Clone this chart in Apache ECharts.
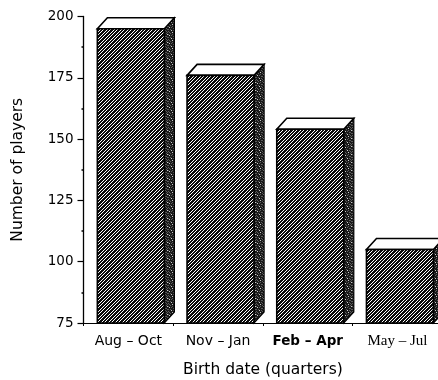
<!DOCTYPE html>
<html><head><meta charset="utf-8">
<script src="https://cdn.jsdelivr.net/npm/echarts@6/dist/echarts.min.js"></script>
<style>html,body{margin:0;padding:0;background:#fff}#c{width:438px;height:380px}</style>
</head><body><div id="c"></div>
<script>
// ---- data ----
const categories = ['Aug – Oct', 'Nov – Jan', 'Feb – Apr', 'May – Jul'];
const players = [195, 176, 154, 105];
const yMin = 75, yMax = 200, yStep = 25;
const xTitle = 'Birth date (quarters)';
const yTitle = 'Number of players';

// ---- patterns (styling only) ----
function makeHatch() {
  const s = 7, c = document.createElement('canvas');
  c.width = s; c.height = s;
  const ctx = c.getContext('2d');
  const img = ctx.createImageData(s, s);
  for (let y = 0; y < s; y++) for (let x = 0; x < s; x++) {
    const m = ((x + y) % 3.5 + 3.5) % 3.5;
    const v = m < 2.1 ? 10 : 255;
    const i = (y * s + x) * 4;
    img.data[i] = img.data[i+1] = img.data[i+2] = v; img.data[i+3] = 255;
  }
  ctx.putImageData(img, 0, 0);
  return c;
}
function makeStipple() {
  const grid = [
    [0,1,0,0,2,0,0,1],
    [0,0,1,0,0,0,1,0],
    [1,0,0,0,1,0,0,2],
    [0,2,0,1,0,0,0,0],
    [0,0,0,0,0,1,1,0],
    [1,0,1,0,0,0,0,1],
    [0,0,0,2,0,1,0,0],
    [1,0,0,0,0,0,1,0]
  ];
  const vals = [25, 90, 200];
  const s = 8, c = document.createElement('canvas');
  c.width = s; c.height = s;
  const ctx = c.getContext('2d');
  const img = ctx.createImageData(s, s);
  for (let y = 0; y < s; y++) for (let x = 0; x < s; x++) {
    const v = vals[grid[y][x]];
    const i = (y * s + x) * 4;
    img.data[i] = img.data[i+1] = img.data[i+2] = v; img.data[i+3] = 255;
  }
  ctx.putImageData(img, 0, 0);
  return c;
}
const hatch = { image: makeHatch(), repeat: 'repeat' };
const stipple = { image: makeStipple(), repeat: 'repeat' };

function renderItem(params, api) {
  const cat = api.value(0), val = api.value(1);
  const top = api.coord([cat, val]);
  const base = api.coord([cat, yMin]);
  const band = api.size([1, 0])[0];
  const L = top[0] - band * 0.3456, W = band * 0.747, R = L + W;
  const dx = band * 0.112, dy = band * 0.1226;
  const T = top[1], B = base[1];
  return {
    type: 'group',
    children: [
      { type: 'polygon', shape: { points: [[R, T], [R + dx, T - dy], [R + dx, B - dy], [R, B]] },
        style: { fill: stipple, stroke: '#000', lineWidth: 1.2 } },
      { type: 'polygon', shape: { points: [[L, T], [L + dx, T - dy], [R + dx, T - dy], [R, T]] },
        style: { fill: '#fff', stroke: '#000', lineWidth: 1.6 } },
      { type: 'rect', shape: { x: L, y: T, width: W, height: B - T },
        style: { fill: hatch, stroke: '#000', lineWidth: 1.6 } }
    ]
  };
}

const chart = echarts.init(document.getElementById('c'), null, { renderer: 'canvas' });
chart.setOption({
  animation: false,
  backgroundColor: '#fff',
  grid: { left: 83.5, right: -4.3, top: 16.5, bottom: 57, containLabel: false, outerBoundsMode: 'none' },
  xAxis: {
    type: 'category',
    data: categories,
    boundaryGap: true,
    name: xTitle,
    nameLocation: 'middle',
    nameGap: 39,
    nameTextStyle: { fontFamily: 'DejaVu Sans', fontSize: 15.5, color: '#000' },
    axisLine: { show: true, lineStyle: { color: '#000', width: 1.2 } },
    axisTick: { show: true, length: 3, lineStyle: { color: '#000' } },
    axisLabel: {
      margin: 11,
      interval: 0,
      formatter: function (v, i) {
        if (i === 2) return '{b|' + v + '}';
        if (i === 3) return '{s|' + v + '}';
        return '{n|' + v + '}';
      },
      rich: {
        n: { fontFamily: 'DejaVu Sans', fontSize: 14, color: '#000' },
        b: { fontFamily: 'DejaVu Sans', fontSize: 13.5, fontWeight: 'bold', color: '#000' },
        s: { fontFamily: 'Liberation Serif', fontSize: 15, color: '#000' }
      }
    }
  },
  yAxis: {
    type: 'value',
    min: yMin, max: yMax, interval: yStep,
    name: yTitle,
    nameLocation: 'middle',
    nameGap: 58,
    nameRotate: 90,
    nameTextStyle: { fontFamily: 'DejaVu Sans', fontSize: 15.5, color: '#000' },
    axisLine: { show: true, lineStyle: { color: '#000', width: 1.3 } },
    axisTick: { show: true, length: 6, lineStyle: { color: '#000', width: 1.2 } },
    minorTick: { show: true, splitNumber: 2, length: 2, lineStyle: { color: '#000', width: 1.5 } },
    splitLine: { show: false },
    axisLabel: { margin: 10, fontFamily: 'DejaVu Sans', fontSize: 13.5, color: '#000' }
  },
  series: [{
    type: 'custom',
    renderItem: renderItem,
    encode: { x: 0, y: 1 },
    clip: false,
    data: categories.map((c, i) => [i, players[i]])
  }]
});
</script>
</body></html>
